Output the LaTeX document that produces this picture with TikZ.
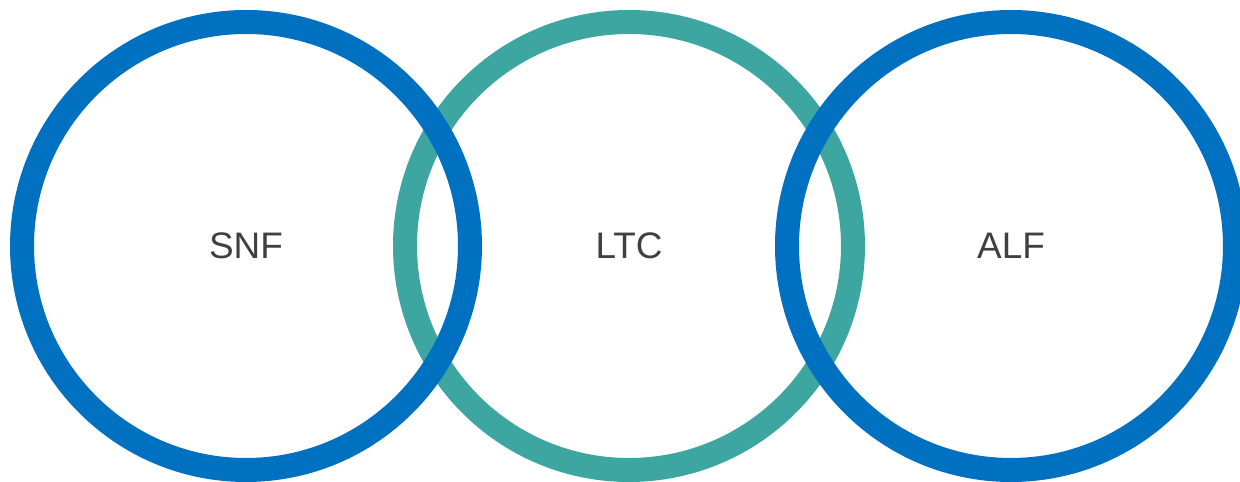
\documentclass[tikz,border=0pt]{standalone}
\usepackage{fontspec}
\setmainfont{Liberation Sans}
\usepackage{tikz}
\usetikzlibrary{positioning}
\definecolor{mblue}{RGB}{0, 112, 192}
\definecolor{mteal}{RGB}{62, 166, 160}
\definecolor{mgray}{RGB}{64, 64, 64}
\tikzset{ring/.style = {circle, draw = #1, line width = 0.24cm, minimum size = 4.48cm, inner sep = 0,
                        text = mgray, font = \fontsize{10.5}{12}\selectfont}}
\begin{document}
\begin{tikzpicture}
          \useasboundingbox (0, 0) rectangle (12.40, 4.82);
          \node [ring = mteal] (ltc) at (6.29, 2.36) {LTC};
          \node [ring = mblue] (snf) at (2.46, 2.36) {SNF};
          \node [ring = mblue] (alf) at (10.11, 2.36) {ALF};
        \end{tikzpicture}
\end{document}
